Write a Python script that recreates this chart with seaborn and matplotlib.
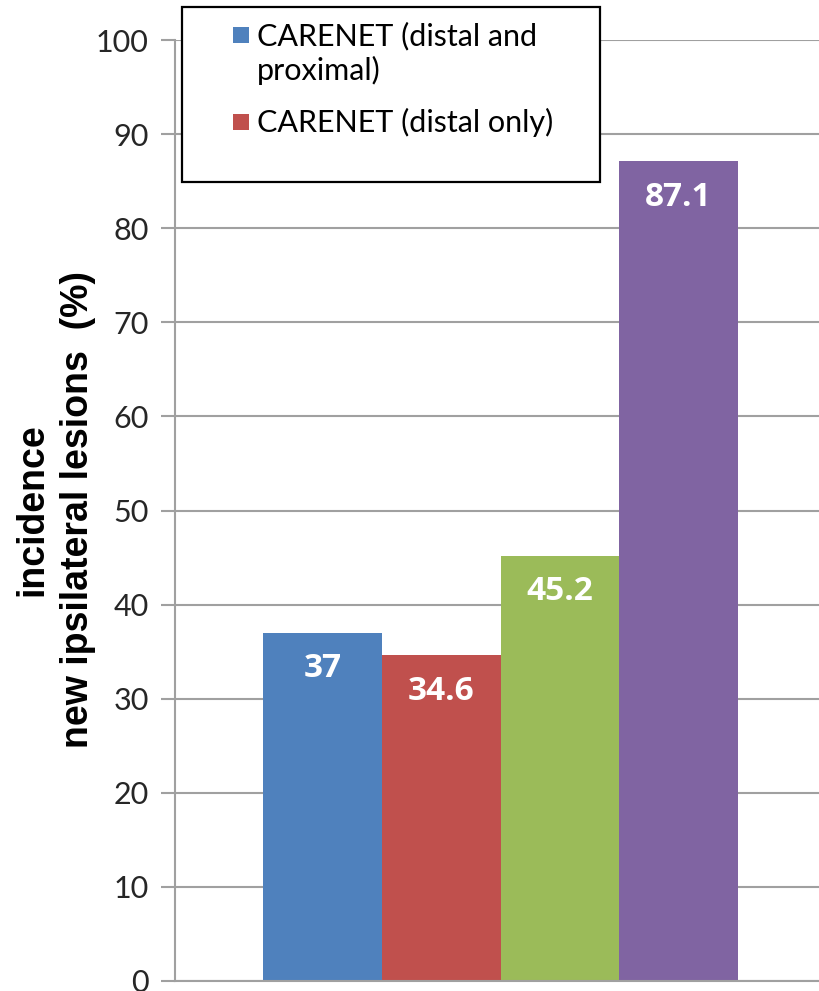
import matplotlib
matplotlib.use("Agg")
import matplotlib.pyplot as plt
from matplotlib.patches import Rectangle
import seaborn as sns
import pandas as pd

# Data
series = ["CARENET (distal and\nproximal)", "CARENET (distal only)", "Study 3", "Study 4"]
values = [37, 34.6, 45.2, 87.1]
value_labels = ["37", "34.6", "45.2", "87.1"]
colors = ["#4F81BD", "#C0504D", "#9BBB59", "#8064A2"]
legend_count = 2
y_ticks = list(range(0, 101, 10))
ylabel_lines = ["incidence", "new ipsilateral lesions  (%)"]

sns.set_theme(style="white")
plt.rcParams["font.family"] = ["Lato", "DejaVu Sans"]

df = pd.DataFrame({"series": series, "value": values})

W, H = 819, 991
fig = plt.figure(figsize=(W / 100, H / 100), dpi=100)
ax = fig.add_axes([175 / W, 10 / H, 1 - 175 / W, 941 / H])

sns.barplot(data=df, x="series", y="value", hue="series", palette=colors,
            width=1.0, dodge=False, legend=False, ax=ax, saturation=1,
            linewidth=0, edgecolor="none")

ax.set_xlim(-1.243, 4.183)
ax.set_ylim(0, 100)
ax.set_yticks(y_ticks)
ax.set_yticklabels([str(t) for t in y_ticks], fontsize=22)
ax.set_xticks([])
ax.set_xlabel("")
ax.set_ylabel("")
ax.yaxis.grid(True, color="#A0A0A0", linewidth=1.5)
ax.set_axisbelow(True)
ax.tick_params(axis="y", direction="out", length=10, width=1.5, color="#A0A0A0",
               pad=9, left=True)
for side in ["top", "right"]:
    ax.spines[side].set_visible(False)
for side in ["left", "bottom"]:
    ax.spines[side].set_color("#A0A0A0")
    ax.spines[side].set_linewidth(1.5)


def px(x, y):
    """Pixel position from the top-left corner -> figure fraction."""
    return x / W, 1 - y / H


# Two-line rotated axis title
ylab_font = dict(fontsize=27, fontweight="bold", family=["Liberation Sans", "DejaVu Sans"],
                 rotation=90, rotation_mode="anchor", ha="center", va="baseline",
                 color="black")
fig.text(*px(42, 510), ylabel_lines[0], **ylab_font)
fig.text(*px(88, 510), ylabel_lines[1], **ylab_font)

# Value labels inside the bar tops
for i, (v, lab) in enumerate(zip(values, value_labels)):
    ax.annotate(lab, xy=(i, v), xytext=(0, -36 * 0.72), textcoords="offset points",
                ha="center", va="center", color="white", fontsize=24,
                fontweight="bold", family=["Open Sans", "DejaVu Sans"])

# Legend box with its entries
fig.patches.append(Rectangle(px(182, 182), 418 / W, 175 / H,
                             transform=fig.transFigure, facecolor="white",
                             edgecolor="black", linewidth=1.6, zorder=5))
entry_tops = [27, 114]
for top, label, color in zip(entry_tops, series[:legend_count], colors[:legend_count]):
    fig.patches.append(Rectangle(px(233, top + 16), 16 / W, 16 / H,
                                 transform=fig.transFigure, facecolor=color,
                                 edgecolor="none", zorder=6))
    for k, line in enumerate(label.split("\n")):
        fig.text(*px(257, top + 18 + 35 * k), line, fontsize=22, ha="left",
                 va="baseline", color="black", zorder=7)

fig.savefig("out.png", dpi=100)
